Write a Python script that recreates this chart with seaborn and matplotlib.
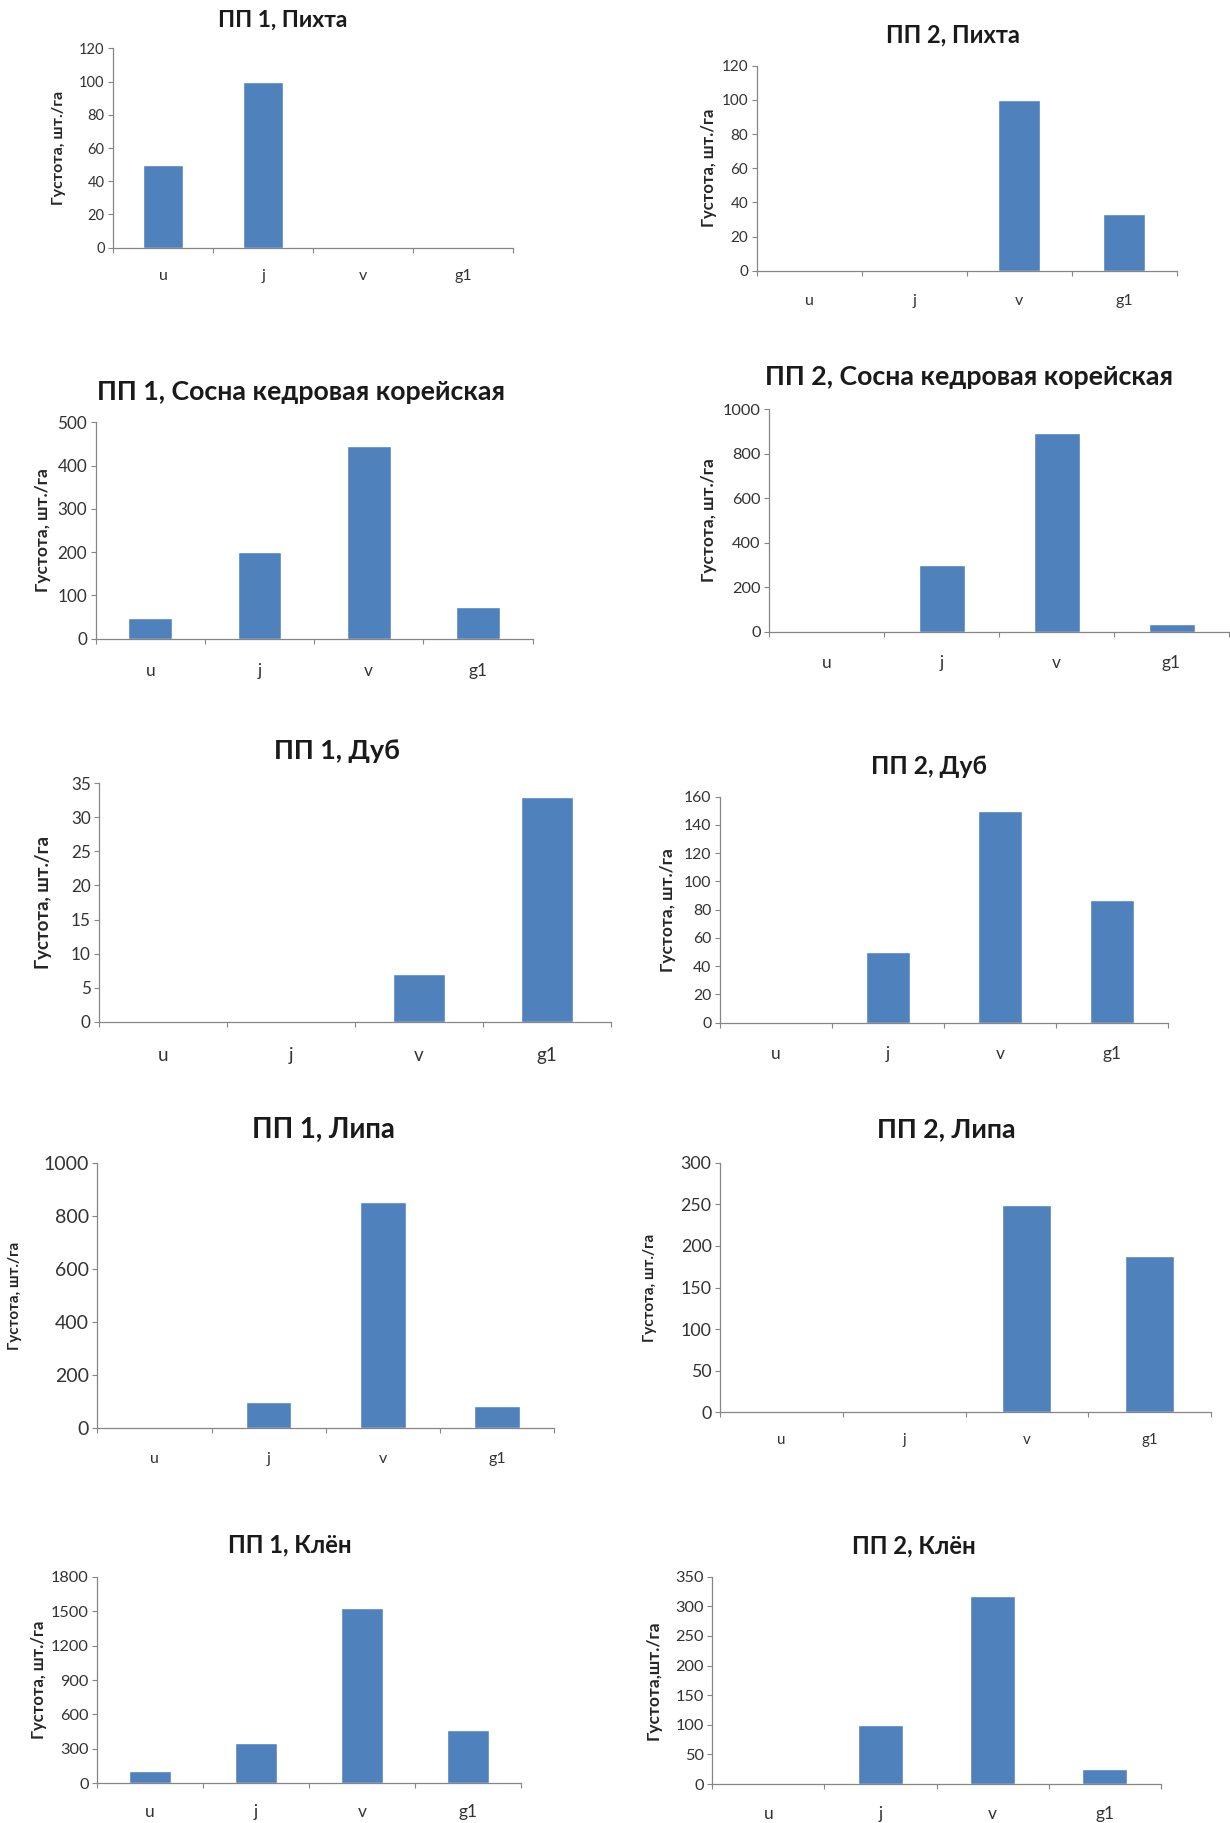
import matplotlib
matplotlib.use("Agg")
import matplotlib.pyplot as plt
import seaborn as sns
import pandas as pd

# ---------------- data ----------------
categories = ["u", "j", "v", "g1"]

pp1_pikhta = [50, 100, 0, 0]
pp2_pikhta = [0, 0, 100, 33]
pp1_sosna = [48, 200, 445, 73]
pp2_sosna = [0, 300, 893, 33]
pp1_dub = [0, 0, 7, 33]
pp2_dub = [0, 50, 150, 87]
pp1_lipa = [0, 100, 854, 84]
pp2_lipa = [0, 0, 249, 188]
pp1_klen = [107, 351, 1527, 464]
pp2_klen = [0, 100, 318, 25]

ticks_pikhta = [0, 20, 40, 60, 80, 100, 120]
ticks_sosna1 = [0, 100, 200, 300, 400, 500]
ticks_1000 = [0, 200, 400, 600, 800, 1000]
ticks_dub1 = [0, 5, 10, 15, 20, 25, 30, 35]
ticks_dub2 = [0, 20, 40, 60, 80, 100, 120, 140, 160]
ticks_lipa2 = [0, 50, 100, 150, 200, 250, 300]
ticks_klen1 = [0, 300, 600, 900, 1200, 1500, 1800]
ticks_klen2 = [0, 50, 100, 150, 200, 250, 300, 350]

titles = [
    "ПП 1, Пихта", "ПП 2, Пихта",
    "ПП 1, Сосна кедровая корейская", "ПП 2, Сосна кедровая корейская",
    "ПП 1, Дуб", "ПП 2, Дуб",
    "ПП 1, Липа", "ПП 2, Липа",
    "ПП 1, Клён", "ПП 2, Клён",
]
ylabels = ["Густота, шт./га"] * 9 + ["Густота,шт./га"]
series = [pp1_pikhta, pp2_pikhta, pp1_sosna, pp2_sosna, pp1_dub, pp2_dub,
          pp1_lipa, pp2_lipa, pp1_klen, pp2_klen]
yticks = [ticks_pikhta, ticks_pikhta, ticks_sosna1, ticks_1000, ticks_dub1,
          ticks_dub2, ticks_1000, ticks_lipa2, ticks_klen1, ticks_klen2]

# ---------------- layout (pixels) ----------------
W, H = 1230, 1823
# L, R, T, B, title_x, title_y, title_size, ytick_size, xtick_size, ylabel_x, ylabel_size, xlab_y
layout = [
    (113, 513, 48.3, 247.7, 283, 20.7, 16.5, 10.5, 11.5, 59, 11.5, 277.5),
    (756.6, 1177, 65.7, 270.7, 953, 35, 17.0, 11.0, 11.5, 709, 12.0, 302.5),
    (95.7, 532.6, 422.3, 638.7, 301, 391.7, 19.3, 12.3, 12.5, 43, 12.5, 672.5),
    (769, 1229, 409.3, 631.7, 969, 377.3, 19.3, 11.8, 12.5, 709, 12.5, 665),
    (99.2, 611, 783.3, 1021.7, 336.5, 750.7, 19.3, 12.3, 13.5, 43, 13.5, 1057.5),
    (720, 1168, 796.7, 1022.7, 929, 766, 17.7, 11.3, 12.5, 668, 12.5, 1056),
    (97.3, 554.2, 1163.3, 1428.3, 323.6, 1130, 19.8, 14.0, 11.5, 15, 11.0, 1461),
    (720, 1211, 1162.7, 1412.3, 946.4, 1129.3, 19.3, 12.8, 10.8, 650, 11.0, 1441.5),
    (97.3, 520.9, 1576.7, 1783.3, 289.5, 1545, 17.2, 11.7, 12.5, 39, 12.0, 1814),
    (712.3, 1161, 1576.7, 1784, 914.3, 1546, 17.2, 11.7, 12.5, 654, 12.5, 1816),
]

BAR = "#4F81BD"
AXC = "#868686"
TXT = "#333333"
TITLEC = "#1a1a1a"

sns.set_style("white")
plt.rcParams["font.family"] = ["Lato", "Open Sans", "DejaVu Sans"]

fig = plt.figure(figsize=(W / 100, H / 100), dpi=100)
fig.patch.set_facecolor("white")

for title, ylab, vals, yt, lay in zip(titles, ylabels, series, yticks, layout):
    L, R, T, B, tx, ty, tsize, ysz, xsz, ylx, ylsz, xly = lay
    ax = fig.add_axes([L / W, 1 - B / H, (R - L) / W, (B - T) / H])
    df = pd.DataFrame({"cat": categories, "val": vals})
    sns.barplot(data=df, x="cat", y="val", order=categories, color=BAR,
                saturation=1, width=0.4, errorbar=None, ax=ax)
    ax.set_xlim(-0.5, 3.5)
    ax.set_ylim(0, yt[-1])
    ax.set_yticks(yt)
    ax.set_xlabel("")
    ax.set_ylabel("")
    ax.set_facecolor("none")
    for s in ["top", "right"]:
        ax.spines[s].set_visible(False)
    for s in ["left", "bottom"]:
        ax.spines[s].set_color(AXC)
        ax.spines[s].set_linewidth(0.9)
    ax.tick_params(axis="y", which="major", left=True, length=3.6, width=0.8,
                   color=AXC, pad=2.5, labelsize=ysz, labelcolor=TXT,
                   direction="out")
    ax.set_xticks([-0.5, 0.5, 1.5, 2.5, 3.5], minor=True)
    pad = (xly - B) / 1.389 - 0.55 * xsz
    ax.tick_params(axis="x", which="major", bottom=True, length=0, pad=pad,
                   labelsize=xsz, labelcolor=TXT)
    ax.tick_params(axis="x", which="minor", bottom=True, length=3.6, width=0.8,
                   color=AXC, direction="out")
    fig.text(tx / W, 1 - ty / H, title, ha="center", va="center",
             fontsize=tsize, fontweight="bold", color=TITLEC)
    fig.text(ylx / W, 1 - ((T + B) / 2) / H, ylab, ha="center", va="center",
             rotation=90, fontsize=ylsz, fontweight="bold", color="#262626")

fig.savefig("out.png", dpi=100, facecolor="white")
